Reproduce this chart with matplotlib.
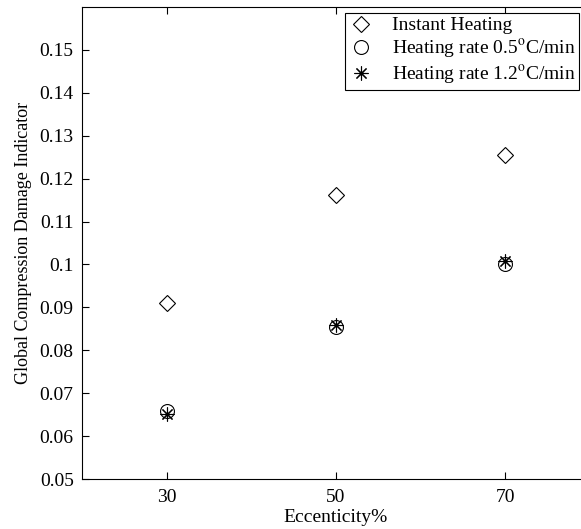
import matplotlib
matplotlib.use("Agg")
import matplotlib.pyplot as plt
from matplotlib.ticker import FuncFormatter, FixedLocator

plt.rcParams["font.family"] = ["Liberation Serif", "DejaVu Serif"]
plt.rcParams["mathtext.fontset"] = "stix"

eccentricity = [30, 50, 70]
instant_heating = [0.0910, 0.1162, 0.1255]
rate_05 = [0.0659, 0.0854, 0.1001]
rate_12 = [0.0652, 0.0859, 0.1007]
y_ticks = [0.05, 0.06, 0.07, 0.08, 0.09, 0.10, 0.11, 0.12, 0.13, 0.14, 0.15]

W, H = 581, 529
fig = plt.figure(figsize=(W / 100, H / 100), dpi=100)
# axes box: left 82 px, right ~590 px (runs past the figure edge), top 7 px, bottom 479 px
ax = fig.add_axes([82 / W, (H - 479) / H, (590 - 82) / W, (479 - 7) / H])

ax.plot(eccentricity, instant_heating, linestyle="none", marker="D", ms=8,
        mfc="none", mec="black", mew=0.8, label="Instant Heating")
ax.plot(eccentricity, rate_05, linestyle="none", marker="o", ms=10,
        mfc="none", mec="black", mew=0.8, label=r"Heating rate 0.5$^{\rm o}$C/min")
ax.plot(eccentricity, rate_12, linestyle="none", marker=(8, 2, 0), ms=10,
        mfc="none", mec="black", mew=0.8, label=r"Heating rate 1.2$^{\rm o}$C/min")

ax.set_xlim(20, 80)
ax.set_ylim(0.05, 0.16)
ax.xaxis.set_major_locator(FixedLocator(eccentricity))
ax.yaxis.set_major_locator(FixedLocator(y_ticks))
ax.yaxis.set_major_formatter(FuncFormatter(lambda v, p: f"{v:g}"))
ax.xaxis.set_major_formatter(FuncFormatter(lambda v, p: f"{v:g}"))

ax.tick_params(direction="in", length=5, width=0.8, labelsize=14,
               top=True, right=True, colors="black")
ax.tick_params(axis="y", pad=6)
ax.tick_params(axis="x", pad=7)
for s in ax.spines.values():
    s.set_linewidth(0.8)
    s.set_color("black")

ax.set_xlabel("Eccenticity%", fontsize=14, labelpad=2)
ax.set_ylabel("Global Compression Damage Indicator", fontsize=13, labelpad=5)

leg = fig.legend(loc="upper right", bbox_to_anchor=(579 / W, 1 - 13 / H),
                 bbox_transform=fig.transFigure, fontsize=14, frameon=True,
                 fancybox=False, framealpha=1, edgecolor="black",
                 borderpad=0.2, labelspacing=0.15, handlelength=1.3,
                 handletextpad=0.9, borderaxespad=0)
leg.get_frame().set_linewidth(0.8)

fig.savefig("out.png", dpi=100)
